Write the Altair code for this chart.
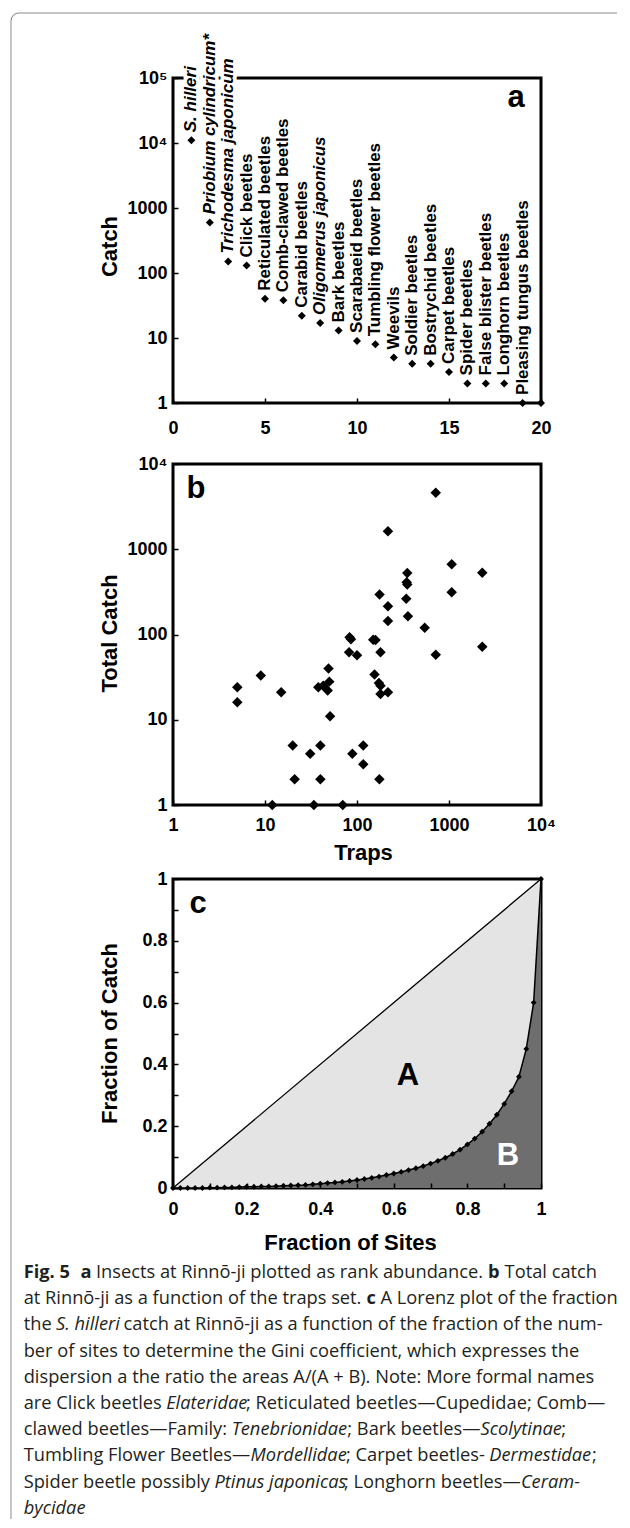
import altair as alt
import pandas as pd

# ---------------- data ----------------
# panel a : rank abundance
rank_order = [1, 2, 3, 4, 5, 6, 7, 8, 9, 10, 11, 12, 13, 14, 15, 16, 17, 18, 19, 20]
rank_taxa = ["S. hilleri", "Priobium cylindricum*", "Trichodesma japonicum", "Click beetles",
             "Reticulated beetles", "Comb-clawed beetles", "Carabid beetles", "Oligomerus japonicus",
             "Bark beetles", "Scarabaeid beetles", "Tumbling flower beetles", "Weevils",
             "Soldier beetles", "Bostrychid beetles", "Carpet beetles", "Spider beetles",
             "False blister beetles", "Longhorn beetles", "Pleasing tungus beetles", ""]
rank_catch = [11000, 600, 150, 130, 40, 38, 22, 17, 13, 9, 8, 5, 4, 4, 3, 2, 2, 2, 1, 1]
rank_latin = [True, True, True, False, False, False, False, True, False, False,
              False, False, False, False, False, False, False, False, False, False]

# panel b : total catch vs traps
traps = [718, 217, 1070, 2300, 352, 347, 352, 1070, 176, 343,
         217, 358, 217, 544, 83, 86, 150, 159, 82, 100,
         180, 718, 2300, 49, 9, 5, 5, 15, 38, 43,
         50, 48, 51, 155, 173, 180, 180, 217, 20, 31,
         40, 89, 117, 117, 21, 40, 175, 12, 34, 70]
total_catch = [4600, 1630, 665, 530, 528, 411, 385, 313, 295, 262,
               215, 164, 144, 120, 93, 88, 87, 86, 62, 57,
               62, 58, 72, 40, 33, 24, 16, 21, 24, 25,
               28, 22, 11, 34, 27, 25, 20, 21, 5, 4,
               5, 4, 5, 3, 2, 2, 2, 1, 1, 1]

# panel c : Lorenz curve
site_fraction = [0.00, 0.02, 0.04, 0.06, 0.08, 0.10, 0.12, 0.14, 0.16, 0.18,
                 0.20, 0.22, 0.24, 0.26, 0.28, 0.30, 0.32, 0.34, 0.36, 0.38,
                 0.40, 0.42, 0.44, 0.46, 0.48, 0.50, 0.52, 0.54, 0.56, 0.58,
                 0.60, 0.62, 0.64, 0.66, 0.68, 0.70, 0.72, 0.74, 0.76, 0.78,
                 0.80, 0.82, 0.84, 0.86, 0.88, 0.90, 0.92, 0.94, 0.96, 0.98, 1.00]
catch_fraction = [0.000, 0.000, 0.000, 0.000, 0.000, 0.001, 0.001, 0.002, 0.002, 0.003,
                  0.004, 0.004, 0.005, 0.005, 0.006, 0.007, 0.008, 0.009, 0.010, 0.012,
                  0.014, 0.016, 0.018, 0.020, 0.023, 0.026, 0.029, 0.033, 0.037, 0.042,
                  0.047, 0.052, 0.058, 0.064, 0.071, 0.079, 0.088, 0.098, 0.110, 0.124,
                  0.141, 0.160, 0.182, 0.208, 0.237, 0.272, 0.313, 0.360, 0.450, 0.600, 1.000]
equality_x = [0, 1]
equality_y = [0, 1]

# tick values
a_xticks = [0, 5, 10, 15, 20]
a_yticks = [1, 10, 100, 1000, 10000, 100000]
b_ticks = [1, 10, 100, 1000, 10000]
c_ticks = [0.0, 0.1, 0.2, 0.3, 0.4, 0.5, 0.6, 0.7, 0.8, 0.9, 1.0]

# caption segments (style, text); a leading space means "space before"
caption_lines = [
    [("b", "Fig. 5"), ("b", "  a"), ("n", " Insects at Rinnō-ji plotted as rank abundance."),
     ("b", " b"), ("n", " Total catch")],
    [("n", "at Rinnō-ji as a function of the traps set."), ("b", " c"),
     ("n", " A Lorenz plot of the fraction")],
    [("n", "the"), ("i", " S. hilleri"),
     ("n", " catch at Rinnō-ji as a function of the fraction of the num-")],
    [("n", "ber of sites to determine the Gini coefficient, which expresses the")],
    [("n", "dispersion a the ratio the areas A/(A + B). Note: More formal names")],
    [("n", "are Click beetles"), ("i", " Elateridae"),
     ("n", "; Reticulated beetles—Cupedidae; Comb—")],
    [("n", "clawed beetles—Family:"), ("i", " Tenebrionidae"), ("n", "; Bark beetles—"),
     ("i", "Scolytinae"), ("n", ";")],
    [("n", "Tumbling Flower Beetles—"), ("i", "Mordellidae"), ("n", "; Carpet beetles-"),
     ("i", " Dermestidae"), ("n", ";")],
    [("n", "Spider beetle possibly"), ("i", " Ptinus japonicas"), ("n", "; Longhorn beetles—"),
     ("i", "Ceram-")],
    [("i", "bycidae")],
]

# ---------------- layout (pixels) ----------------
FONT = "Liberation Sans"
CAP_FONT = "Open Sans"
CAP_SIZE = 18.25
W = 368
HA, HB, HC = 325, 341, 309
OX = 172          # page x of the plot areas' left edge
BOT_C = 1187      # page y of panel c bottom (caption origin)
CW, CH = 440, 330
CAP_X0, CAP_Y0, CAP_DY = 22.7, 1277, 26.2

# approximate advance widths (em) of the caption font, used to butt styled runs together
ADV = {" ": .26, "a": .556, "b": .613, "c": .476, "d": .613, "e": .561, "f": .339, "g": .548,
       "h": .614, "i": .253, "j": .253, "k": .525, "l": .253, "m": .930, "n": .614, "o": .604,
       "ō": .604, "p": .613, "q": .613, "r": .408, "s": .477, "t": .353, "u": .614, "v": .501,
       "w": .778, "x": .524, "y": .502, "z": .477, "A": .633, "B": .648, "C": .631, "D": .729,
       "E": .556, "F": .516, "G": .728, "H": .738, "I": .279, "L": .519, "M": .903, "N": .754,
       "P": .603, "R": .618, "S": .549, "T": .553, ".": .266, ",": .244, ":": .266, ";": .266,
       "-": .322, "—": 1.0, "/": .367, "(": .295, ")": .295, "+": .572, "5": .572, "*": .547}
STYLE_K = {"n": 1.0, "b": 1.06, "i": 0.937}

one = pd.DataFrame({"k": [0]})


def yaxis(title, values, expr, title_y):
    return alt.Axis(values=values, labelExpr=expr, title=title, offset=-5, tickSize=5,
                    tickWidth=1.5, tickColor="black", domain=False, grid=False, zindex=1,
                    labelFont=FONT, labelFontSize=18, labelFontWeight="bold", labelColor="black",
                    labelPadding=6, labelAlign="right", labelBaseline="middle",
                    labelFlush=False, labelOverlap=False,
                    titleFont=FONT, titleFontSize=22, titleFontWeight="bold", titleColor="black",
                    titleAngle=270, titleBaseline="alphabetic", titleAlign="center",
                    titleX=-62, titleY=title_y)


def xaxis(values, expr, pad, title=None, title_x=0, title_y=0):
    kw = dict(values=values, labelExpr=expr, offset=-5, tickSize=5, tickWidth=1.5,
              tickColor="black", domain=False, grid=False, zindex=1,
              labelFont=FONT, labelFontSize=18, labelFontWeight="bold", labelColor="black",
              labelPadding=pad, labelFlush=False, labelOverlap=False)
    if title is None:
        kw["title"] = None
    else:
        kw.update(title=title, titleFont=FONT, titleFontSize=22, titleFontWeight="bold",
                  titleColor="black", titleBaseline="alphabetic", titleAlign="center",
                  titleX=title_x, titleY=title_y)
    return alt.Axis(**kw)


EXP = ("datum.value == 10000 ? '10\u2074' : datum.value == 100000 ? '10\u2075' : "
       "format(datum.value, 'd')")
FRAC = "round(datum.value * 10) % 2 == 0 ? format(datum.value, '~g') : ''"
border = alt.ViewBackground(stroke="black", strokeWidth=3)


def panel_letter(letter, px, py):
    return alt.Chart(one).mark_text(text=letter, font=FONT, fontSize=31, fontWeight="bold",
                                    color="black", align="center", baseline="middle").encode(
        x=alt.value(px), y=alt.value(py))


# ---------------- panel a ----------------
a_df = pd.DataFrame({"rank": rank_order, "catch": rank_catch, "taxon": rank_taxa,
                     "latin": rank_latin})
a_xs = alt.Scale(domain=[0, 20], nice=False, zero=False)
a_ys = alt.Scale(type="log", domain=[1, 100000], nice=False)
a_xax = xaxis(a_xticks, "datum.label", 16)
a_yax = yaxis("Catch", a_yticks, EXP, 168)
a_pts = alt.Chart(a_df).mark_point(shape="diamond", filled=True, color="black", opacity=1,
                                   size=64).encode(
    x=alt.X("rank:Q", scale=a_xs, axis=a_xax), y=alt.Y("catch:Q", scale=a_ys, axis=a_yax))
lab_base = alt.Chart(a_df).transform_filter("datum.taxon != ''").transform_calculate(
    ly="datum.catch * 1.33")
lab_enc = dict(x=alt.X("rank:Q", scale=a_xs, axis=a_xax),
               y=alt.Y("ly:Q", scale=a_ys, axis=a_yax), text="taxon:N")
lab_kw = dict(angle=270, align="left", baseline="middle", font=FONT, fontSize=17,
              fontWeight="bold")
a_white = lab_base.transform_filter("datum.latin").mark_text(
    fontStyle="italic", fill="white", stroke="white", strokeWidth=7, **lab_kw).encode(**lab_enc)
a_ital = lab_base.transform_filter("datum.latin").mark_text(
    fontStyle="italic", color="black", **lab_kw).encode(**lab_enc)
a_bold = lab_base.transform_filter("!datum.latin").mark_text(
    color="black", **lab_kw).encode(**lab_enc)
panel_a = alt.layer(a_pts, a_white, a_ital, a_bold, panel_letter("a", 343, 20)).properties(
    width=W, height=HA, view=border)

# ---------------- panel b ----------------
b_df = pd.DataFrame({"traps": traps, "total": total_catch})
b_x = alt.X("traps:Q", scale=alt.Scale(type="log", domain=[1, 10000], nice=False),
            axis=xaxis(b_ticks, EXP, 11, "Traps", 190, 59))
b_y = alt.Y("total:Q", scale=alt.Scale(type="log", domain=[1, 10000], nice=False),
            axis=yaxis("Total Catch", b_ticks, EXP, 169))
b_pts = alt.Chart(b_df).mark_point(shape="diamond", filled=True, color="black", opacity=1,
                                   size=110).encode(x=b_x, y=b_y)
panel_b = alt.layer(b_pts, panel_letter("b", 23, 25)).properties(width=W, height=HB, view=border)

# ---------------- panel c ----------------
c_df = pd.DataFrame({"site": site_fraction, "frac": catch_fraction})
eq_df = pd.DataFrame({"site": equality_x, "frac": equality_y})
c_enc = dict(
    x=alt.X("site:Q", scale=alt.Scale(domain=[0, 1], nice=False, zero=False),
            axis=xaxis(c_ticks, FRAC, 12, "Fraction of Sites", 177, 66)),
    y=alt.Y("frac:Q", scale=alt.Scale(domain=[0, 1], nice=False, zero=False),
            axis=yaxis("Fraction of Catch", c_ticks, FRAC, 154)))
c_light = alt.Chart(eq_df).mark_area(color="#e4e4e4", opacity=1).encode(**c_enc)
c_dark = alt.Chart(c_df).mark_area(color="#6e6e6e", opacity=1).encode(**c_enc)
c_diag = alt.Chart(eq_df).mark_line(color="black", strokeWidth=1.3).encode(**c_enc)
c_line = alt.Chart(c_df).mark_line(color="black", strokeWidth=1.5).encode(**c_enc)
c_pts = alt.Chart(c_df).mark_point(shape="diamond", filled=True, color="black", opacity=1,
                                   size=34).encode(**c_enc)
c_A = alt.Chart(one).mark_text(text="A", font=FONT, fontSize=31, fontWeight="bold",
                               color="black").encode(x=alt.value(235), y=alt.value(197))
c_B = alt.Chart(one).mark_text(text="B", font=FONT, fontSize=31, fontWeight="bold",
                               color="white").encode(x=alt.value(335), y=alt.value(277))
panel_c = alt.layer(c_light, c_dark, c_diag, c_line, c_pts, c_A, c_B,
                    panel_letter("c", 25, 25)).properties(width=W, height=HC, view=border)

# ---------------- caption ----------------
rows = []
for i, line in enumerate(caption_lines):
    cursor = CAP_X0
    for style, txt in line:
        k = CAP_SIZE * STYLE_K[style]
        lead = len(txt) - len(txt.lstrip(" "))
        body = txt.lstrip(" ")
        start = cursor + lead * ADV[" "] * k
        rows.append({"seg": body, "style": style, "px": start - OX,
                     "py": CAP_Y0 + i * CAP_DY - BOT_C})
        cursor = start + sum(ADV.get(ch, 0.55) for ch in body) * k
cap_df = pd.DataFrame(rows)
cap_enc = dict(
    x=alt.X("px:Q", scale=alt.Scale(domain=[0, CW], range=[0, CW], nice=False, zero=False),
            axis=None),
    y=alt.Y("py:Q", scale=alt.Scale(domain=[0, CH], range=[0, CH], nice=False, zero=False),
            axis=None),
    text="seg:N")
cap_kw = dict(align="left", baseline="alphabetic", font=CAP_FONT, fontSize=CAP_SIZE,
              color="#231f20")
cap_base = alt.Chart(cap_df)
cap_n = cap_base.transform_filter("datum.style == 'n'").mark_text(**cap_kw).encode(**cap_enc)
cap_b = cap_base.transform_filter("datum.style == 'b'").mark_text(
    fontWeight="bold", **cap_kw).encode(**cap_enc)
cap_i = cap_base.transform_filter("datum.style == 'i'").mark_text(
    fontStyle="italic", **cap_kw).encode(**cap_enc)
FR = "#8c8c8c"
frame_left = alt.Chart(one).mark_rule(color=FR, strokeWidth=1).encode(
    x=alt.value(10 - OX), y=alt.value(20 - BOT_C), y2=alt.value(1518 - BOT_C))
frame_top = alt.Chart(one).mark_rule(color=FR, strokeWidth=1).encode(
    x=alt.value(18 - OX), x2=alt.value(616 - OX), y=alt.value(12 - BOT_C))
frame_corner = alt.Chart(one).mark_arc(color=FR, radius=8.5, radius2=7.5).encode(
    x=alt.value(18 - OX), y=alt.value(20 - BOT_C),
    theta=alt.value(4.712389), theta2=alt.value(6.283185))
caption = alt.layer(cap_n, cap_b, cap_i, frame_left, frame_top, frame_corner).properties(
    width=CW, height=CH)


def spacer(h):
    return alt.Chart(one).mark_point(opacity=0).encode(
        x=alt.value(0), y=alt.value(0)).properties(width=W, height=h)


chart = alt.vconcat(panel_a, spacer(61), panel_b, spacer(74), panel_c, caption,
                    spacing=0, bounds="flush").properties(
    padding={"left": 2, "top": 4, "right": 0, "bottom": 0}
).configure_view(strokeWidth=0)

chart.save("out.html", embed_options={"renderer": "svg", "actions": False})
